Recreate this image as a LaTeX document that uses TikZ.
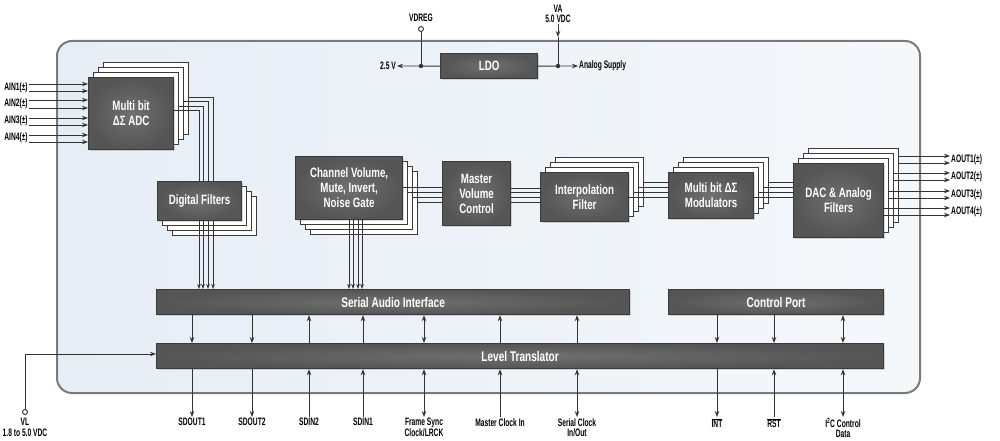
\documentclass[tikz,border=0pt]{standalone}
\usepackage{fontspec}
\setmainfont{Liberation Sans}[FakeStretch=0.72]
\newfontfamily\labfont{Liberation Sans}[FakeStretch=0.62]
\usetikzlibrary{arrows.meta,shadows}
\definecolor{boxin}{HTML}{707070}
\definecolor{boxout}{HTML}{555555}
\definecolor{boxedge}{HTML}{3A3A3A}
\definecolor{wirec}{HTML}{333333}
\definecolor{bgA}{HTML}{E6EDF5}
\definecolor{bgB}{HTML}{F5F8FB}
\definecolor{framec}{HTML}{7A7A7A}
\begin{document}
\begin{tikzpicture}[x=1pt,y=-1pt,
 fbox/.style={draw=boxedge, line width=1.2pt, inner color=boxin, outer color=boxout, text=white,
   font=\bfseries\fontsize{13.5}{15}\selectfont, align=center, inner sep=0pt, anchor=north west,
   drop shadow={shadow xshift=1.5pt, shadow yshift=-1.5pt, opacity=0.3}},
 barbox/.style={fbox, font=\bfseries\fontsize{14}{15}\selectfont, minimum height=25pt},
 bbox/.style={draw=boxedge, fill=white, line width=1.2pt, inner sep=0pt, anchor=north west},
 wire/.style={draw=wirec, line width=0.9pt},
 arr/.style={wire, -{Stealth[length=6pt,width=4.5pt]}},
 barr/.style={wire, {Stealth[length=6pt,width=4.5pt]}-{Stealth[length=6pt,width=4.5pt]}},
 lab/.style={font=\labfont\bfseries\fontsize{10.8}{10.5}\selectfont, align=center, inner sep=1pt, text=black},
 pin/.style={circle, draw=wirec, line width=0.9pt, fill=white, inner sep=0pt, minimum size=5pt},
]
\useasboundingbox (0,0) rectangle (1000,441);
% chip outline
\draw[draw=framec, line width=2pt, rounded corners=15pt, left color=bgA, right color=bgB] (57,41) rectangle (920,393);

% ---- stacks ----
\foreach \k/\n in {3/c,2/b,1/a}{
  \node[bbox, minimum width=85pt, minimum height=72pt] (adc\n) at (88+5*\k,77-5*\k) {};
  \node[bbox, minimum width=84pt, minimum height=39pt] (df\n) at (157+5*\k,181+5*\k) {};
  \node[bbox, minimum width=107pt, minimum height=63pt] (cv\n) at (295+5*\k,156+5*\k) {};
  \node[bbox, minimum width=88pt, minimum height=49pt] (intp\n) at (540+5*\k,172-5*\k) {};
  \node[bbox, minimum width=85pt, minimum height=46pt] (mod\n) at (668+5*\k,172-5*\k) {};
  \node[bbox, minimum width=90pt, minimum height=74pt] (dac\n) at (793+5*\k,163-5*\k) {};
}
\node[fbox, minimum width=85pt, minimum height=72pt] (adc) at (88,77) {Multi bit\\ΔΣ ADC};
\node[fbox, minimum width=84pt, minimum height=39pt] (df) at (157,181) {Digital Filters};
\node[fbox, minimum width=107pt, minimum height=63pt] (cv) at (295,156) {Channel Volume,\\Mute, Invert,\\Noise Gate};
\node[fbox, minimum width=68pt, minimum height=64pt] (mv) at (442,161) {Master\\Volume\\Control};
\node[fbox, minimum width=88pt, minimum height=49pt] (intp) at (540,172) {Interpolation\\Filter};
\node[fbox, minimum width=85pt, minimum height=46pt] (mod) at (668,172) {Multi bit ΔΣ\\Modulators};
\node[fbox, minimum width=90pt, minimum height=74pt] (dac) at (793,163) {DAC \& Analog\\Filters};
\node[fbox, minimum width=97pt, minimum height=25pt] (ldo) at (440,53) {LDO};
\node[barbox, minimum width=473pt] (sai) at (156,289) {Serial Audio Interface};
\node[barbox, minimum width=215pt] (cp) at (668,289) {Control Port};
\node[barbox, minimum width=727pt] (lt) at (156,343) {Level Translator};

% ---- LDO area ----
\node[pin] (vdc) at (421,29) {};
\node[lab] (vdl) at (421,18) {VDREG};
\coordinate (dl) at (421,66);
\coordinate (dr) at (558,66);
\coordinate (vat) at (558,37);
\node[lab, anchor=east] (v25) at (397,66) {2.5 V};
\node[lab, anchor=west] (asup) at (578,66) {Analog Supply};
\node[lab] (va) at (558,14) {VA\\5.0 VDC};
\draw[wire] (vdc.south) -- (dl);
\draw[arr] (ldo.west) -- (v25.east);
\draw[arr] (ldo.east) -- (asup.west);
\draw[arr] (va.south) -- (vat);
\draw[wire] (vat) -- (dr);
\fill[wirec] (dl) circle (2.2pt);
\fill[wirec] (dr) circle (2.2pt);

% ---- analog inputs ----
\node[lab] (ai1) at (16,88) {AIN1(±)};
\node[lab] (ai2) at (16,104) {AIN2(±)};
\node[lab] (ai3) at (16,121) {AIN3(±)};
\node[lab] (ai4) at (16,138) {AIN4(±)};
\foreach \n/\ya/\yb in {1/84/91,2/100/108,3/118/125,4/135/142}{
  \draw[arr] (ai\n.east |- 0,\ya) -- (adc.west |- 0,\ya);
  \draw[arr] (ai\n.east |- 0,\yb) -- (adc.west |- 0,\yb);
}
% ADC -> Digital filters
\draw[wire] (adcc.east |- 0,97) -| (df.north -| 213,0);
\draw[wire] (adcb.east |- 0,101) -| (df.north -| 208,0);
\draw[wire] (adca.east |- 0,106) -| (df.north -| 203,0);
\draw[wire] (adc.east |- 0,110) -| (df.north -| 199,0);
% Digital filters -> SAI
\foreach \x in {199,203,208,213}{ \draw[wire, -{Stealth[length=5pt,width=3.6pt]}] (df.south -| \x,0) -- (sai.north -| \x,0); }
% Channel volume -> SAI
\foreach \x in {349,353,358,362}{ \draw[wire, -{Stealth[length=5pt,width=3.6pt]}] (cv.south -| \x,0) -- (sai.north -| \x,0); }
% Channel volume -> Master volume
\draw[wire] (cv.east |- 0,187) -- (mv.west |- 0,187);
\draw[wire] (cva.east |- 0,192) -- (mv.west |- 0,192);
\draw[wire] (cvb.east |- 0,197) -- (mv.west |- 0,197);
\draw[wire] (cvc.east |- 0,202) -- (mv.west |- 0,202);
% Master -> Interpolation
\foreach \y in {188,192,197,202}{ \draw[wire] (mv.east |- 0,\y) -- (intp.west |- 0,\y); }
% Interpolation -> Modulators
\draw[wire] (intpc.east |- 0,182) -- (mod.west |- 0,182);
\draw[wire] (intpb.east |- 0,187) -- (mod.west |- 0,187);
\draw[wire] (intpa.east |- 0,192) -- (mod.west |- 0,192);
\draw[wire] (intp.east |- 0,197) -- (mod.west |- 0,197);
% Modulators -> DAC
\draw[wire] (modc.east |- 0,182) -- (dac.west |- 0,182);
\draw[wire] (modb.east |- 0,187) -- (dac.west |- 0,187);
\draw[wire] (moda.east |- 0,192) -- (dac.west |- 0,192);
\draw[wire] (mod.east |- 0,197) -- (dac.west |- 0,197);
% DAC -> outputs
\node[lab, anchor=west] (ao1) at (950,160) {AOUT1(±)};
\node[lab, anchor=west] (ao2) at (950,177) {AOUT2(±)};
\node[lab, anchor=west] (ao3) at (950,195) {AOUT3(±)};
\node[lab, anchor=west] (ao4) at (950,212) {AOUT4(±)};
\draw[arr] (dacc.east |- 0,156) -- (ao1.west |- 0,156);
\draw[arr] (dacc.east |- 0,163) -- (ao1.west |- 0,163);
\draw[arr] (dacb.east |- 0,173) -- (ao2.west |- 0,173);
\draw[arr] (dacb.east |- 0,180) -- (ao2.west |- 0,180);
\draw[arr] (daca.east |- 0,191) -- (ao3.west |- 0,191);
\draw[arr] (daca.east |- 0,198) -- (ao3.west |- 0,198);
\draw[arr] (dac.east |- 0,208) -- (ao4.west |- 0,208);
\draw[arr] (dac.east |- 0,215) -- (ao4.west |- 0,215);

% ---- bottom pins ----
\node[lab, anchor=north] (l1) at (192,417) {SDOUT1};
\node[lab, anchor=north] (l2) at (252,417) {SDOUT2};
\node[lab, anchor=north] (l3) at (309,417) {SDIN2};
\node[lab, anchor=north] (l4) at (363,417) {SDIN1};
\node[lab, anchor=north] (l5) at (424,417) {Frame Sync\\Clock/LRCK};
\node[lab, anchor=north] (l6) at (500,417) {Master Clock In};
\node[lab, anchor=north] (l7) at (577,417) {Serial Clock\\In/Out};
\node[lab, anchor=north] (l8) at (717,417) {$\overline{\mbox{INT}}$};
\node[lab, anchor=north] (l9) at (774,417) {$\overline{\mbox{RST}}$};
\node[lab, anchor=north] (l10) at (843,417) {I\textsuperscript{2}C Control\\Data};
% SAI/CP <-> LT
\draw[arr] (sai.south -| l1) -- (lt.north -| l1);
\draw[arr] (sai.south -| l2) -- (lt.north -| l2);
\draw[arr] (lt.north -| l3) -- (sai.south -| l3);
\draw[arr] (lt.north -| l4) -- (sai.south -| l4);
\draw[barr] (lt.north -| l5) -- (sai.south -| l5);
\draw[arr] (lt.north -| l6) -- (sai.south -| l6);
\draw[arr] (lt.north -| l7) -- (sai.south -| l7);
\draw[arr] (cp.south -| l8) -- (lt.north -| l8);
\draw[arr] (cp.south -| l9) -- (lt.north -| l9);
\draw[barr] (lt.north -| l10) -- (cp.south -| l10);
% LT <-> pins
\draw[arr] (lt.south -| l1) -- (l1.north);
\draw[arr] (lt.south -| l2) -- (l2.north);
\draw[arr] (l3.north) -- (lt.south -| l3);
\draw[arr] (l4.north) -- (lt.south -| l4);
\draw[barr] (l5.north) -- (lt.south -| l5);
\draw[arr] (l6.north) -- (lt.south -| l6);
\draw[barr] (l7.north) -- (lt.south -| l7);
\draw[arr] (lt.south -| l8) -- (l8.north);
\draw[arr] (l9.north) -- (lt.south -| l9);
\draw[barr] (l10.north) -- (lt.south -| l10);
% VL
\node[pin] (vlc) at (25,412) {};
\node[lab, anchor=north] (vl) at (25,417) {VL\\1.8 to 5.0 VDC};
\draw[arr] (vlc.north) |- (lt.west |- 0,354);
\end{tikzpicture}
\end{document}
